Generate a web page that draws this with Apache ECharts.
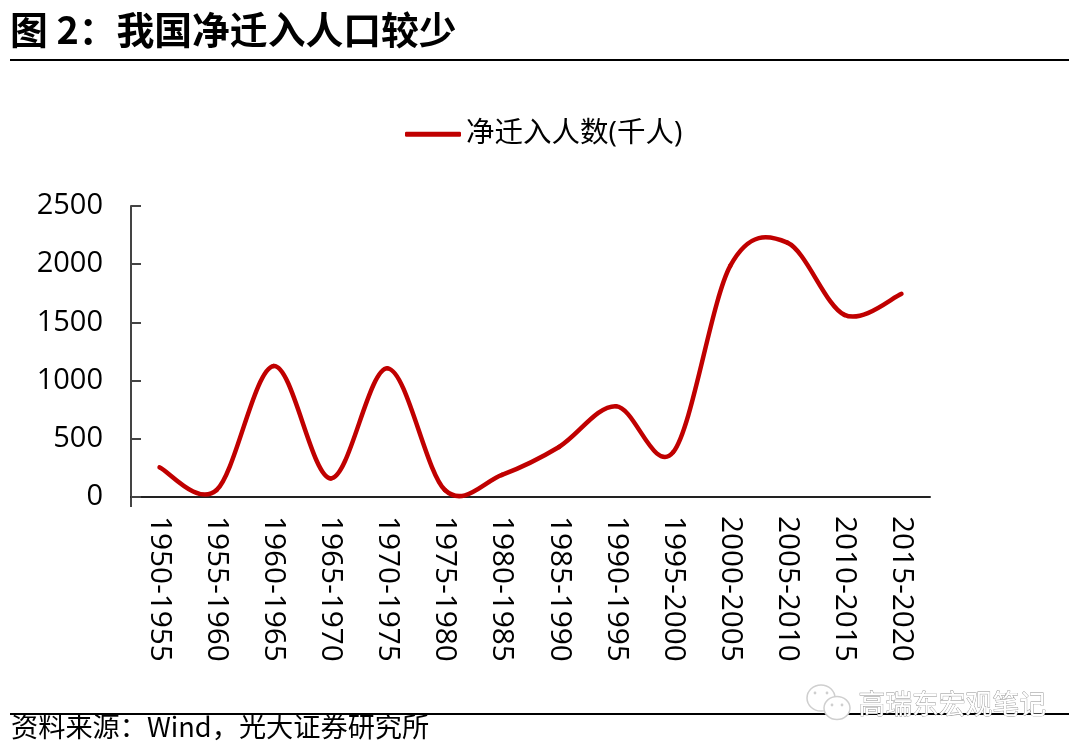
<!DOCTYPE html>
<html><head><meta charset="utf-8">
<style>html,body{margin:0;padding:0;background:#fff}#c{width:1080px;height:753px}</style>
<script src="https://cdn.jsdelivr.net/npm/echarts@6/dist/echarts.min.js"></script>
</head><body><div id="c"></div>
<script>
const categories=["1950-1955","1955-1960","1960-1965","1965-1970","1970-1975","1975-1980","1980-1985","1985-1990","1990-1995","1995-2000","2000-2005","2005-2010","2010-2015","2015-2020"];
const netMigrants=[255,60,1125,160,1105,60,190,430,780,385,1985,2185,1565,1745];
const seriesName="净迁入人数(千人)";
const titleText="图 2：我国净迁入人口较少";
const sourceText="资料来源：Wind，光大证券研究所";
const watermarkText="高瑞东宏观笔记";
const font='"Open Sans","Noto Sans CJK SC",sans-serif';
const cjk='"Noto Sans CJK SC",sans-serif';
const chart=echarts.init(document.getElementById('c'),null,{renderer:'canvas'});
const bubble='#cfcfcf';
// Excel-style smoothed line: one Bezier segment per pair of data points, placed via the axis scales
function renderSegment(params,api){
 const i=params.dataIndex,n=netMigrants.length;
 if(i>=n-1) return null;
 const pt=(k)=>api.coord([Math.max(0,Math.min(n-1,k)),netMigrants[Math.max(0,Math.min(n-1,k))]]);
 const p0=pt(i-1),p1=pt(i),p2=pt(i+1),p3=pt(i+2);
 return {type:'bezierCurve',silent:true,
  shape:{x1:p1[0],y1:p1[1],x2:p2[0],y2:p2[1],
   cpx1:p1[0]+(p2[0]-p0[0])/6,cpy1:p1[1]+(p2[1]-p0[1])/6,
   cpx2:p2[0]-(p3[0]-p1[0])/6,cpy2:p2[1]-(p3[1]-p1[1])/6},
  style:{fill:'none',stroke:'#C00000',lineWidth:4.5,lineCap:'round'}};
}
chart.setOption({
 animation:false,backgroundColor:'#fff',
 grid:{left:131,right:150,top:206,bottom:256,containLabel:false},
 legend:{top:115,left:400,itemWidth:56,itemHeight:5,icon:'roundRect',itemGap:5,
  textStyle:{fontFamily:font,fontSize:28.5,color:'#000'},data:[{name:seriesName,icon:'roundRect',itemStyle:{color:'#C00000'}}]},
 xAxis:{type:'category',data:categories,boundaryGap:true,
  axisLine:{lineStyle:{color:'#222',width:2}},
  axisTick:{show:false},
  axisLabel:{rotate:-90,interval:0,margin:19,padding:[3,0,0,0],fontFamily:font,fontSize:29.8,color:'#000'}},
 yAxis:{type:'value',min:0,max:2500,interval:500,
  axisLine:{show:true,lineStyle:{color:'#444',width:2}},
  axisTick:{show:true,inside:true,length:10,lineStyle:{color:'#444',width:2}},
  splitLine:{show:false},
  axisLabel:{margin:28,padding:[6,0,0,0],formatter:(v)=>String(v),fontFamily:font,fontSize:29,color:'#000'}},
 series:[{name:seriesName,type:'custom',renderItem:renderSegment,clip:false,
  data:netMigrants.map((v,i)=>[i,v]),encode:{x:0,y:1},itemStyle:{color:'#C00000'}}],
 graphic:[
  {type:'text',left:10,top:11,style:{text:titleText,fontFamily:cjk,fontSize:37.8,fontWeight:'bold',fill:'#000'}},
  {type:'rect',shape:{x:10,y:59,width:1059,height:2},style:{fill:'#000'}},
  {type:'rect',shape:{x:130,y:497,width:2,height:10},style:{fill:'#444'}},
  {type:'rect',shape:{x:10,y:713,width:1059,height:2},style:{fill:'#000'}},
  {type:'text',left:11,top:713,style:{text:sourceText,fontFamily:cjk,fontSize:27.2,fill:'#000'}},
  {type:'ellipse',shape:{cx:821,cy:698,rx:14,ry:13},style:{fill:'#fff',stroke:bubble,lineWidth:1.5}},
  {type:'circle',shape:{cx:815,cy:693,r:1.4},style:{fill:bubble}},
  {type:'circle',shape:{cx:827,cy:693,r:1.4},style:{fill:bubble}},
  {type:'ellipse',shape:{cx:837,cy:708,rx:13,ry:11.5},style:{fill:'#fff',stroke:bubble,lineWidth:1.5}},
  {type:'circle',shape:{cx:832,cy:705,r:1.4},style:{fill:bubble}},
  {type:'circle',shape:{cx:842,cy:705,r:1.4},style:{fill:bubble}},
  {type:'text',left:858,top:690,style:{text:watermarkText,fontFamily:cjk,fontSize:26.8,fill:'#fff',stroke:'#8f8f8f',lineWidth:0.8}}
 ]
});
</script></body></html>
